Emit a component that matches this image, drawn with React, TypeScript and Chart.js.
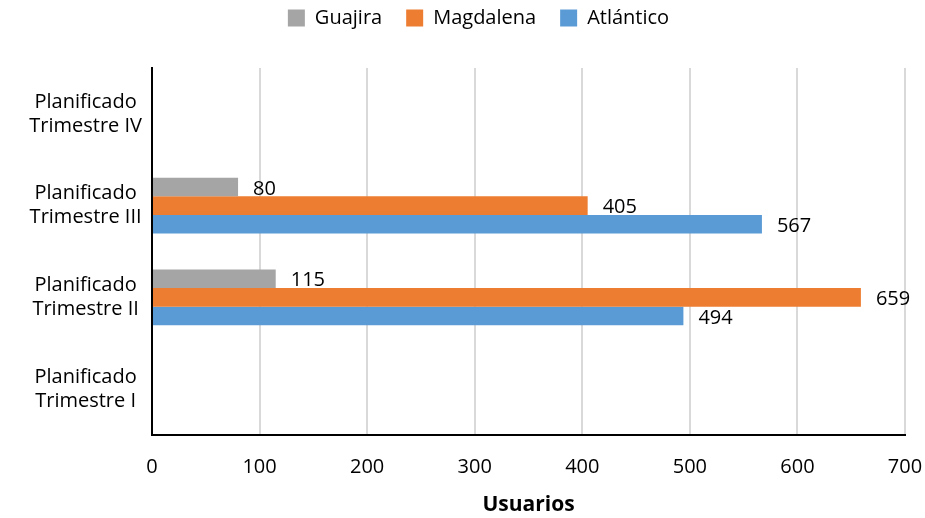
import React, { useEffect, useRef } from "react";
import { Chart, registerables } from "chart.js";

Chart.register(...registerables);

const categories: string[][] = [
  ["Planificado", "Trimestre IV"],
  ["Planificado", "Trimestre III"],
  ["Planificado", "Trimestre II"],
  ["Planificado", "Trimestre I"],
];
const guajira: (number | null)[] = [null, 80, 115, null];
const magdalena: (number | null)[] = [null, 405, 659, null];
const atlantico: (number | null)[] = [null, 567, 494, null];
const xTicks = { min: 0, max: 700, step: 100 };

const FONT = "'Open Sans', sans-serif";
const TOP_SHIFT = 16;
const LEGEND_SHIFT_X = 26;

const valueLabels = {
  id: "valueLabels",
  beforeLayout(chart: any) {
    const lg = chart.legend;
    if (lg && !lg.__patched) {
      const orig = lg.fit;
      lg.fit = function () {
        orig.call(this);
        this.height = 68 + TOP_SHIFT;
      };
      lg.__patched = true;
    }
  },
  afterLayout(chart: any) {
    const lg = chart.legend;
    if (lg) {
      lg.left += LEGEND_SHIFT_X;
      lg.right += LEGEND_SHIFT_X;
    }
  },
  afterDatasetsDraw(chart: any) {
    const ctx = chart.ctx;
    ctx.save();
    ctx.font = `20px ${FONT}`;
    ctx.fillStyle = "#000";
    ctx.textAlign = "left";
    ctx.textBaseline = "middle";
    chart.data.datasets.forEach((ds: any, i: number) => {
      const meta = chart.getDatasetMeta(i);
      meta.data.forEach((el: any, j: number) => {
        const v = ds.data[j];
        if (v === null || v === undefined) return;
        ctx.fillText(String(v), el.x + 15, el.y + 2);
      });
    });
    ctx.restore();
  },
};

export default function App() {
  const ref = useRef<HTMLCanvasElement>(null);
  useEffect(() => {
    document.body.style.margin = "0";
    const chart = new Chart(ref.current!, {
      type: "bar",
      data: {
        labels: categories,
        datasets: [
          { label: "Guajira", data: guajira, backgroundColor: "#A5A5A5" },
          { label: "Magdalena", data: magdalena, backgroundColor: "#ED7D31" },
          { label: "Atlántico", data: atlantico, backgroundColor: "#5B9BD5" },
        ],
      },
      options: {
        indexAxis: "y",
        animation: false,
        responsive: false,
        maintainAspectRatio: false,
        categoryPercentage: 0.61,
        barPercentage: 1,
        layout: { padding: { top: -TOP_SHIFT, right: 20, left: 0, bottom: 0 } },
        plugins: {
          legend: {
            position: "top",
            labels: {
              font: { family: FONT, size: 20 },
              color: "#000",
              boxWidth: 17,
              boxHeight: 17,
              padding: 24,
            },
          },
          tooltip: { enabled: false },
        },
        scales: {
          x: {
            min: xTicks.min,
            max: xTicks.max,
            ticks: {
              stepSize: xTicks.step,
              font: { family: FONT, size: 20 },
              color: "#000",
              padding: 20,
            },
            grid: { color: "#D9D9D9", lineWidth: 2, drawTicks: false },
            border: { color: "#000", width: 2 },
            title: {
              display: true,
              text: "Usuarios",
              font: { family: FONT, size: 21, weight: "bold" },
              color: "#000",
              padding: { top: 10, bottom: 0 },
            },
            afterFit: (s: any) => {
              s.height = 83;
              s.paddingRight = 0;
              s.paddingLeft = 0;
            },
          },
          y: {
            ticks: {
              font: { family: FONT, size: 20 },
              color: "#000",
              crossAlign: "center",
              padding: 10,
            },
            grid: { display: false, drawTicks: false },
            border: { color: "#000", width: 2 },
            afterFit: (s: any) => {
              s.width = 152;
              s.paddingTop = 0;
              s.paddingBottom = 0;
            },
          },
        },
      },
      plugins: [valueLabels],
    } as any);
    return () => chart.destroy();
  }, []);
  return <canvas ref={ref} width={925} height={518} style={{ display: "block" }} />;
}
